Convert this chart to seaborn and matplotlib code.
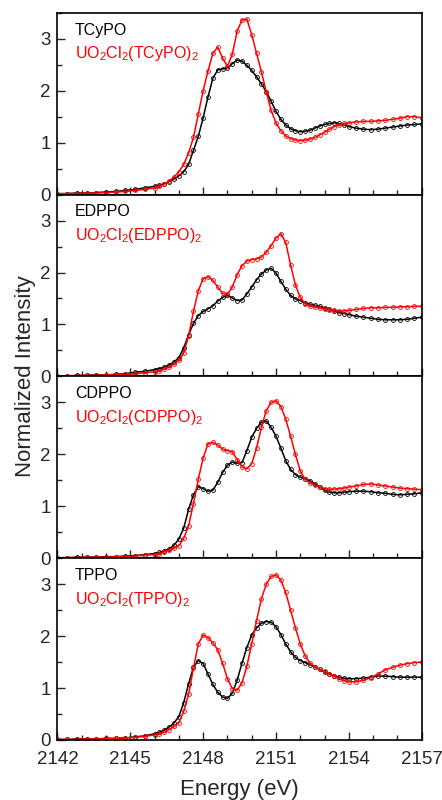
import numpy as np
import pandas as pd
import matplotlib
matplotlib.use("Agg")
import matplotlib.pyplot as plt
from matplotlib.ticker import MultipleLocator
import seaborn as sns

# energy grid (eV), shared by all spectra
energy = [2142.0, 2142.4, 2142.8, 2143.2, 2143.6, 2144.0, 2144.4, 2144.8, 2145.2, 2145.6, 2146.0,
          2146.2, 2146.4, 2146.6, 2146.8, 2147.0, 2147.2, 2147.4, 2147.6, 2147.8, 2148.0,
          2148.2, 2148.4, 2148.6, 2148.8, 2149.0, 2149.2, 2149.4, 2149.6, 2149.8, 2150.0,
          2150.2, 2150.4, 2150.6, 2150.8, 2151.0, 2151.2, 2151.4, 2151.6, 2151.8, 2152.0,
          2152.2, 2152.4, 2152.6, 2152.8, 2153.0, 2153.2, 2153.4, 2153.6, 2153.8, 2154.0,
          2154.3, 2154.6, 2154.9, 2155.2, 2155.5, 2155.8, 2156.1, 2156.4, 2156.7, 2157.0]

tcypo = [0.02, 0.02, 0.03, 0.03, 0.04, 0.05, 0.06, 0.08, 0.10, 0.13, 0.16,
         0.18, 0.21, 0.25, 0.30, 0.36, 0.44, 0.58, 0.85, 1.12, 1.48,
         1.88, 2.24, 2.40, 2.42, 2.43, 2.52, 2.59, 2.57, 2.49, 2.39,
         2.27, 2.13, 1.98, 1.80, 1.60, 1.45, 1.34, 1.27, 1.23, 1.21,
         1.22, 1.24, 1.28, 1.32, 1.35, 1.37, 1.38, 1.37, 1.34, 1.31,
         1.28, 1.26, 1.25, 1.26, 1.28, 1.30, 1.32, 1.34, 1.35, 1.36]
tcypo_u = [0.01, 0.02, 0.02, 0.03, 0.03, 0.04, 0.05, 0.06, 0.08, 0.10, 0.13,
           0.16, 0.20, 0.26, 0.34, 0.44, 0.58, 0.80, 1.10, 1.55, 2.00,
           2.38, 2.72, 2.84, 2.63, 2.47, 2.70, 3.15, 3.36, 3.38, 3.08,
           2.72, 2.36, 1.98, 1.62, 1.38, 1.23, 1.13, 1.08, 1.05, 1.04,
           1.05, 1.07, 1.10, 1.15, 1.20, 1.26, 1.31, 1.34, 1.37, 1.38,
           1.40, 1.41, 1.41, 1.42, 1.43, 1.45, 1.47, 1.50, 1.50, 1.48]

edppo = [0.01, 0.01, 0.02, 0.02, 0.03, 0.03, 0.04, 0.05, 0.08, 0.10, 0.13,
         0.15, 0.18, 0.22, 0.28, 0.36, 0.55, 0.80, 1.02, 1.17, 1.25,
         1.30, 1.36, 1.45, 1.52, 1.56, 1.51, 1.46, 1.47, 1.59, 1.72,
         1.86, 1.97, 2.05, 2.08, 1.99, 1.83, 1.68, 1.56, 1.49, 1.46,
         1.42, 1.39, 1.37, 1.35, 1.32, 1.29, 1.26, 1.23, 1.21, 1.19,
         1.16, 1.14, 1.12, 1.10, 1.09, 1.09, 1.09, 1.10, 1.12, 1.14]
edppo_u = [0.01, 0.01, 0.01, 0.02, 0.02, 0.03, 0.03, 0.04, 0.05, 0.07, 0.09,
           0.11, 0.14, 0.18, 0.24, 0.31, 0.45, 0.78, 1.25, 1.65, 1.88,
           1.92, 1.85, 1.72, 1.60, 1.58, 1.72, 1.96, 2.13, 2.22, 2.25,
           2.26, 2.30, 2.39, 2.52, 2.66, 2.75, 2.58, 2.15, 1.76, 1.52,
           1.40, 1.36, 1.34, 1.32, 1.30, 1.28, 1.27, 1.26, 1.26, 1.27,
           1.29, 1.31, 1.32, 1.32, 1.33, 1.33, 1.34, 1.34, 1.35, 1.35]

cdppo = [0.01, 0.01, 0.02, 0.02, 0.02, 0.03, 0.03, 0.04, 0.05, 0.07, 0.09,
         0.11, 0.14, 0.18, 0.25, 0.37, 0.58, 0.94, 1.22, 1.38, 1.34,
         1.29, 1.31, 1.46, 1.65, 1.79, 1.85, 1.83, 1.84, 2.07, 2.33,
         2.50, 2.62, 2.64, 2.52, 2.35, 2.12, 1.88, 1.71, 1.61, 1.56,
         1.53, 1.49, 1.43, 1.37, 1.31, 1.27, 1.26, 1.26, 1.27, 1.28,
         1.29, 1.29, 1.28, 1.26, 1.25, 1.23, 1.22, 1.23, 1.24, 1.26]
cdppo_u = [0.01, 0.01, 0.01, 0.02, 0.02, 0.02, 0.03, 0.03, 0.04, 0.06, 0.07,
           0.09, 0.12, 0.15, 0.19, 0.24, 0.38, 0.62, 1.05, 1.52, 1.93,
           2.20, 2.23, 2.18, 2.10, 2.07, 2.05, 1.90, 1.76, 1.72, 1.82,
           2.12, 2.52, 2.84, 3.00, 3.03, 2.92, 2.68, 2.35, 2.00, 1.68,
           1.52, 1.45, 1.40, 1.37, 1.34, 1.33, 1.33, 1.34, 1.35, 1.37,
           1.39, 1.42, 1.43, 1.41, 1.39, 1.37, 1.35, 1.34, 1.33, 1.32]

tppo = [0.01, 0.01, 0.02, 0.02, 0.02, 0.03, 0.03, 0.04, 0.06, 0.08, 0.12,
        0.15, 0.19, 0.25, 0.33, 0.45, 0.72, 1.08, 1.40, 1.53, 1.47,
        1.27, 1.07, 0.92, 0.83, 0.80, 0.90, 1.15, 1.48, 1.78, 2.02,
        2.16, 2.25, 2.28, 2.27, 2.18, 2.03, 1.85, 1.70, 1.59, 1.53,
        1.49, 1.45, 1.41, 1.36, 1.31, 1.27, 1.23, 1.21, 1.19, 1.18,
        1.18, 1.19, 1.21, 1.23, 1.23, 1.22, 1.21, 1.21, 1.21, 1.21]
tppo_u = [0.01, 0.01, 0.01, 0.02, 0.02, 0.03, 0.03, 0.04, 0.05, 0.07, 0.10,
          0.12, 0.15, 0.20, 0.26, 0.33, 0.55, 0.88, 1.38, 1.85, 2.02,
          1.97, 1.87, 1.74, 1.48, 1.18, 0.99, 0.96, 1.10, 1.42, 1.85,
          2.30, 2.72, 3.00, 3.15, 3.18, 3.08, 2.84, 2.50, 2.16, 1.85,
          1.62, 1.48, 1.41, 1.36, 1.32, 1.28, 1.23, 1.18, 1.14, 1.12,
          1.12, 1.15, 1.20, 1.27, 1.35, 1.40, 1.44, 1.47, 1.49, 1.50]

ligands = ["TCyPO", "EDPPO", "CDPPO", "TPPO"]
free_spectra = [tcypo, edppo, cdppo, tppo]
complex_spectra = [tcypo_u, edppo_u, cdppo_u, tppo_u]
xticks = [2142, 2145, 2148, 2151, 2154, 2157]
yticks = [0, 1, 2, 3]

sns.set_theme(style="ticks")
plt.rcParams['font.family'] = ['Liberation Sans', 'DejaVu Sans']
plt.rcParams['mathtext.default'] = 'regular'

fig, axes = plt.subplots(4, 1, figsize=(4.42, 8.0), dpi=100, sharex=True)
fig.subplots_adjust(left=0.130, right=0.954, top=0.984, bottom=0.075, hspace=0)

for ax, name, ref, cplx in zip(axes, ligands, free_spectra, complex_spectra):
    df = pd.DataFrame({"energy": energy, "ref": ref, "cplx": cplx})
    sns.lineplot(data=df, x="energy", y="ref", ax=ax, color="black", lw=1.1,
                 marker="o", markersize=2.8, mfc="none", mec="black", mew=0.6)
    sns.lineplot(data=df, x="energy", y="cplx", ax=ax, color="#ff0000", lw=1.1,
                 marker="o", markersize=2.8, mfc="none", mec="#ff0000", mew=0.6)
    ax.set_xlim(2142, 2157)
    ax.set_ylim(0, 3.5)
    ax.set_yticks(yticks)
    ax.yaxis.set_minor_locator(MultipleLocator(0.5))
    ax.set_xticks(xticks)
    ax.xaxis.set_minor_locator(MultipleLocator(1))
    ax.tick_params(which="major", direction="in", length=6, width=1, labelsize=13.5,
                   top=False, right=False)
    ax.tick_params(axis="x", which="major", pad=8)
    ax.tick_params(axis="y", which="major", pad=5)
    ax.tick_params(which="minor", direction="in", length=3.5, width=1,
                   top=False, right=False)
    for s in ax.spines.values():
        s.set_linewidth(1.2)
        s.set_color("black")
    ax.set_xlabel("")
    ax.set_ylabel("")
    ax.text(0.048, 0.905, name, transform=ax.transAxes, fontsize=11.5,
            color="black", va="center", ha="left")
    ax.text(0.048, 0.775, "UO$_2$Cl$_2$(" + name + ")$_2$", transform=ax.transAxes,
            fontsize=11.5, color="#ff0000", va="center", ha="left")

axes[-1].set_xticklabels([str(t) for t in xticks])
axes[-1].set_xlabel("Energy (eV)", fontsize=16, labelpad=8)
fig.text(0.058, 0.53, "Normalized Intensity", rotation=90, fontsize=16,
         ha="center", va="center")

fig.savefig("out.png", dpi=100)
